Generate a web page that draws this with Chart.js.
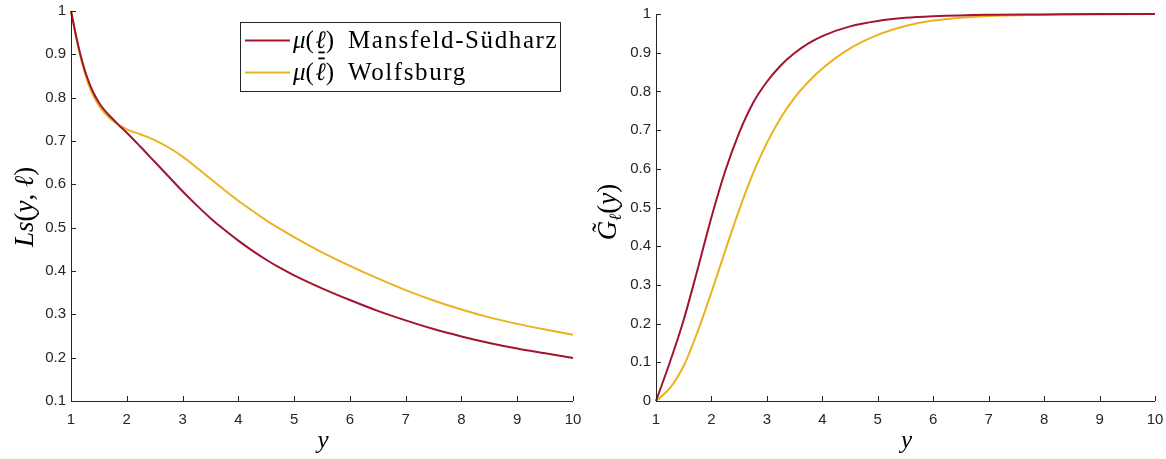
<!DOCTYPE html>
<html>
<head>
<meta charset="utf-8">
<script src="https://cdn.jsdelivr.net/npm/chart.js@4"></script>
<style>
  html, body { margin: 0; padding: 0; background: #fff; }
  #wrap { position: relative; width: 1166px; height: 459px; overflow: hidden; }
  #lsChart { position: absolute; left: 0; top: 0; }
  #gChart { position: absolute; left: 583px; top: 0; }
</style>
</head>
<body>
<div id="wrap">
  <canvas id="lsChart" width="583" height="459"></canvas>
  <canvas id="gChart" width="583" height="459"></canvas>
</div>
<script>
// y values on the horizontal axis
const lsX = [1, 1.1, 1.2, 1.3, 1.4, 1.5, 1.6, 1.7, 1.8, 1.9, 2, 2.25, 2.5, 2.75, 3, 3.25, 3.5, 3.75, 4, 4.25, 4.5, 4.75, 5, 5.5, 6, 6.5, 7, 7.5, 8, 8.5, 9, 9.5, 10];
const lsMansfeld = [1, 0.937, 0.884, 0.843, 0.812, 0.789, 0.771, 0.757, 0.744, 0.731, 0.719, 0.686, 0.652, 0.618, 0.584, 0.552, 0.522, 0.495, 0.47, 0.447, 0.426, 0.407, 0.39, 0.36, 0.333, 0.308, 0.286, 0.266, 0.249, 0.234, 0.221, 0.21, 0.199];
const lsWolfsburg = [1, 0.935, 0.879, 0.836, 0.805, 0.782, 0.765, 0.752, 0.742, 0.734, 0.727, 0.715, 0.702, 0.685, 0.664, 0.639, 0.613, 0.587, 0.562, 0.539, 0.517, 0.497, 0.478, 0.443, 0.412, 0.383, 0.356, 0.332, 0.311, 0.293, 0.278, 0.265, 0.253];

const gX = [1, 1.25, 1.5, 1.75, 2, 2.25, 2.5, 2.75, 3, 3.25, 3.5, 3.75, 4, 4.5, 5, 5.5, 6, 7, 8, 9, 10];
const gMansfeld = [0, 0.1, 0.21, 0.34, 0.475, 0.595, 0.693, 0.77, 0.825, 0.867, 0.899, 0.924, 0.943, 0.968, 0.982, 0.99, 0.994, 0.998, 0.999, 1, 1];
const gWolfsburg = [0, 0.033, 0.091, 0.179, 0.281, 0.389, 0.494, 0.588, 0.667, 0.732, 0.784, 0.825, 0.859, 0.911, 0.946, 0.969, 0.983, 0.995, 0.998, 0.999, 1];

const xTicks = [1, 2, 3, 4, 5, 6, 7, 8, 9, 10];
const lsYTicks = [0.1, 0.2, 0.3, 0.4, 0.5, 0.6, 0.7, 0.8, 0.9, 1];
const gYTicks = [0, 0.1, 0.2, 0.3, 0.4, 0.5, 0.6, 0.7, 0.8, 0.9, 1];

const regions = ['Mansfeld-Südharz', 'Wolfsburg'];
const bounds = ['under', 'over'];
const colors = ['#a2142f', '#edb120'];

const AXIS = '#262626';
const SERIF = '"Liberation Serif", "DejaVu Serif", serif';
const SANS = '"Liberation Sans", Arial, sans-serif';

function pts(xs, ys) {
    return xs.map((x, i) => ({ x: x, y: ys[i] }));
}

// draws a row of text pieces (italic / upright, accents, subscripts, bars)
function drawPieces(ctx, pieces, cx, cy, align) {
    let w = 0;
    pieces.forEach(p => {
        if (p.accent) return;
        ctx.font = p.font;
        ctx.letterSpacing = p.ls || '0px';
        w += ctx.measureText(p.t).width;
    });
    let x = align === 'left' ? cx : cx - w / 2;
    let prev = null;
    pieces.forEach(p => {
        ctx.font = p.font;
        ctx.letterSpacing = p.ls || '0px';
        if (p.accent && prev) {
            ctx.textAlign = 'center';
            ctx.fillText(p.t, prev.x + prev.w / 2 + (p.dx || 0), cy + (p.dy || 0));
            return;
        }
        ctx.textAlign = 'left';
        const pw = ctx.measureText(p.t).width;
        ctx.fillText(p.t, x, cy + (p.dy || 0));
        if (p.bar) {
            ctx.fillRect(x + 3, cy + (p.bar === 'under' ? 4 : -22), pw - 4, 1.8);
        }
        prev = { x: x, w: pw };
        x += pw;
    });
    ctx.letterSpacing = '0px';
}

// MATLAB-like frame: left and bottom axis lines, inward ticks, axis titles, legend box
const matlabFrame = {
    id: 'matlabFrame',
    afterDraw(chart, args, opts) {
        const ctx = chart.ctx;
        const a = chart.chartArea;
        const xs = chart.scales.x, ys = chart.scales.y;
        ctx.save();
        ctx.strokeStyle = AXIS;
        ctx.lineWidth = 1;
        ctx.beginPath();
        ctx.moveTo(Math.round(a.left) + 0.5, a.top);
        ctx.lineTo(Math.round(a.left) + 0.5, Math.round(a.bottom) + 0.5);
        ctx.lineTo(a.right, Math.round(a.bottom) + 0.5);
        xs.ticks.forEach(t => {
            const px = Math.round(xs.getPixelForValue(t.value)) + 0.5;
            ctx.moveTo(px, a.bottom);
            ctx.lineTo(px, a.bottom - 5);
        });
        ys.ticks.forEach(t => {
            const py = Math.round(ys.getPixelForValue(t.value)) + 0.5;
            ctx.moveTo(a.left, py);
            ctx.lineTo(a.left + 5, py);
        });
        ctx.stroke();

        ctx.fillStyle = '#000';
        ctx.textBaseline = 'alphabetic';
        drawPieces(ctx, [{ t: 'y', font: 'italic 25px ' + SERIF }], (a.left + a.right) / 2 + 1, 448);

        ctx.save();
        ctx.translate(opts.yTitleX, opts.yTitleY);
        ctx.rotate(-Math.PI / 2);
        drawPieces(ctx, opts.yTitle, 0, 0);
        ctx.restore();

        if (opts.legend) {
            const IT = 'italic 25px ' + SERIF, RM = '25px ' + SERIF;
            ctx.fillStyle = '#fff';
            ctx.fillRect(240.5, 22.5, 320, 69);
            ctx.strokeStyle = AXIS;
            ctx.strokeRect(240.5, 22.5, 320, 69);
            chart.data.datasets.forEach((ds, i) => {
                const ly = 40.5 + i * 32;
                ctx.strokeStyle = ds.borderColor;
                ctx.lineWidth = 2;
                ctx.beginPath();
                ctx.moveTo(245, ly);
                ctx.lineTo(290, ly);
                ctx.stroke();
                ctx.fillStyle = '#000';
                drawPieces(ctx, [
                    { t: 'μ', font: IT },
                    { t: '(', font: RM, ls: '1.5px' },
                    { t: 'ℓ', font: IT, bar: bounds[i] },
                    { t: ')', font: RM, ls: '6px' },
                    { t: ' ' + regions[i], font: RM, ls: '1.6px' }
                ], 293, ly + 7, 'left');
            });
        }
        ctx.restore();
    }
};

function makeChart(id, xs, series, yTicks, yMin, frame, pad, yWidth) {
    return new Chart(document.getElementById(id), {
        type: 'line',
        data: {
            datasets: series.map((s, i) => ({
                label: 'μ(ℓ) ' + regions[i],
                data: pts(xs, s),
                borderColor: colors[i],
                borderWidth: 2,
                pointRadius: 0,
                cubicInterpolationMode: 'monotone',
                clip: 4
            }))
        },
        options: {
            responsive: false,
            animation: false,
            events: [],
            layout: { padding: pad },
            plugins: {
                legend: { display: false },
                tooltip: { enabled: false },
                matlabFrame: frame
            },
            scales: {
                x: {
                    type: 'linear',
                    min: 1,
                    max: 10,
                    afterBuildTicks: s => { s.ticks = xTicks.map(v => ({ value: v })); },
                    afterFit: s => { s.height = 58; s.paddingLeft = 0; s.paddingRight = 0; },
                    grid: { display: false, drawTicks: false },
                    border: { display: false },
                    ticks: {
                        padding: 10,
                        color: AXIS,
                        font: { family: SANS, size: 15 },
                        maxRotation: 0,
                        callback: v => String(v)
                    }
                },
                y: {
                    type: 'linear',
                    min: yMin,
                    max: 1,
                    afterBuildTicks: s => { s.ticks = yTicks.map(v => ({ value: v })); },
                    afterFit: s => { s.width = yWidth; s.paddingTop = 0; s.paddingBottom = 0; },
                    grid: { display: false, drawTicks: false },
                    border: { display: false },
                    ticks: {
                        padding: 5,
                        color: AXIS,
                        font: { family: SANS, size: 15 },
                        callback: v => String(Number(v.toFixed(1)))
                    }
                }
            }
        },
        plugins: [matlabFrame]
    });
}

const YT = 'italic 27px ' + SERIF, YR = '27px ' + SERIF;

makeChart('lsChart', lsX, [lsMansfeld, lsWolfsburg], lsYTicks, 0.1, {
    yTitleX: 33,
    yTitleY: 207,
    legend: true,
    yTitle: [
        { t: 'Ls', font: YT },
        { t: '(', font: YR },
        { t: 'y', font: YT },
        { t: ', ', font: YR },
        { t: 'ℓ', font: YT },
        { t: ')', font: YR }
    ]
}, { top: 11, right: 10 }, 71);

makeChart('gChart', gX, [gMansfeld, gWolfsburg], gYTicks, 0, {
    yTitleX: 33,
    yTitleY: 212,
    legend: false,
    yTitle: [
        { t: 'G', font: YT },
        { t: '˜', font: YR, accent: true, dx: 3, dy: -5 },
        { t: 'ℓ', font: 'italic 17px ' + SERIF, dy: 5 },
        { t: '(', font: YR },
        { t: 'y', font: YT },
        { t: ')', font: YR }
    ]
}, { top: 14, right: 11 }, 73);
</script>
</body>
</html>
